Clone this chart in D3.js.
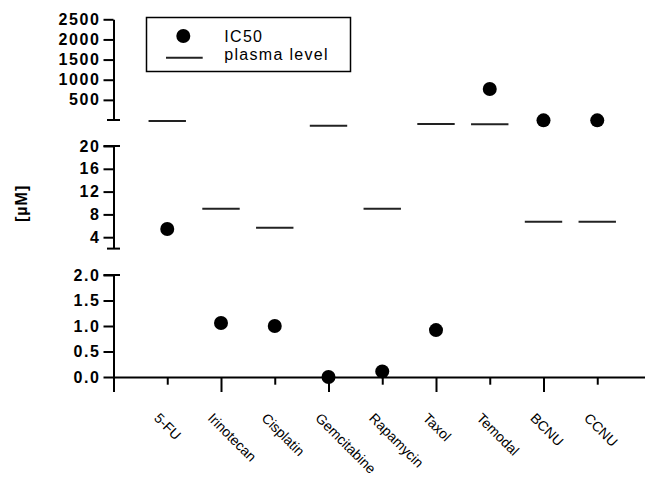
<!DOCTYPE html>
<html>
<head>
<meta charset="utf-8">
<script src="https://cdn.jsdelivr.net/npm/d3@7"></script>
<style>
  html, body { margin: 0; padding: 0; background: #fff; }
  svg { display: block; }
  text { font-family: "Liberation Sans", Arial, sans-serif; }
</style>
</head>
<body>
<svg id="chart" width="645" height="479"></svg>
<script>
// ---- data ----
const categories = ["5-FU", "Irinotecan", "Cisplatin", "Gemcitabine", "Rapamycin", "Taxol", "Temodal", "BCNU", "CCNU"];
const ic50 = [5.44, 1.06, 1.00, 0.0, 0.11, 0.92, 770, 24.5, 24.5];
const plasmaLevel = [24.4, 9.0, 5.67, 23.55, 9.0, 23.85, 23.8, 6.7, 6.7];
const topTicks = [500, 1000, 1500, 2000, 2500];
const midTicks = [4, 8, 12, 16, 20];
const botTicks = [0.0, 0.5, 1.0, 1.5, 2.0];
const legendLabels = ["IC50", "plasma level"];
const yLabel = "[µM]";

// ---- layout ----
const svg = d3.select("#chart");
const axisX = 113.5;

const x = d3.scaleLinear().domain([0, 10]).range([axisX, axisX + 537.5]);
const yTop = d3.scaleLinear().domain([0, 2500]).range([120, 19.3]);
const yMid = d3.scaleLinear().domain([2, 20]).range([248.6, 146]);
const yBot = d3.scaleLinear().domain([0, 2]).range([377, 275]);
function y(v) {
  if (v <= 2) return yBot(v);
  if (v <= 30) return yMid(v);
  return yTop(v);
}

const black = "#000";

function styleAxis(g, bold) {
  g.select(".domain").attr("stroke", black).attr("stroke-width", 2);
  g.selectAll(".tick line").attr("stroke", black).attr("stroke-width", 2);
  g.selectAll(".tick text")
    .attr("fill", black)
    .style("font-family", '"Liberation Sans", Arial, sans-serif')
    .style("font-size", "16px")
    .style("font-weight", bold ? "bold" : "normal")
    .style("letter-spacing", "1.6px");
}

// top segment
const gTop = svg.append("g").attr("transform", `translate(${axisX},0)`)
  .call(d3.axisLeft(yTop).tickValues(topTicks).tickSize(10).tickSizeOuter(0).tickPadding(3).tickFormat(d3.format("d")));
styleAxis(gTop, true);

// middle segment
const gMid = svg.append("g").attr("transform", `translate(${axisX},0)`)
  .call(d3.axisLeft(yMid).tickValues(midTicks).tickSize(10).tickSizeOuter(0).tickPadding(3).tickFormat(d3.format("d")));
styleAxis(gMid, true);

// bottom segment
const gBot = svg.append("g").attr("transform", `translate(${axisX},0)`)
  .call(d3.axisLeft(yBot).tickValues(botTicks).tickSize(10).tickSizeOuter(0).tickPadding(3).tickFormat(d3.format(".1f")));
styleAxis(gBot, true);

// segment end caps
const caps = [
  { yv: yTop(0), left: 6.5, right: 6.5 },
  { yv: yMid(20), left: 10, right: 6.5 },
  { yv: yMid(2), left: 6.5, right: 6.5 },
  { yv: yBot(2), left: 10, right: 6.5 }
];
svg.append("g").selectAll("line").data(caps).join("line")
  .attr("x1", d => axisX - d.left).attr("x2", d => axisX + d.right)
  .attr("y1", d => d.yv).attr("y2", d => d.yv)
  .attr("stroke", black).attr("stroke-width", 2);

// x axis
const gX = svg.append("g").attr("transform", `translate(0,${yBot(0)})`)
  .call(d3.axisBottom(x).tickValues(d3.range(0, 11)).tickSizeOuter(0).tickFormat(""));
gX.select(".domain").attr("stroke", black).attr("stroke-width", 2);
gX.selectAll(".tick line").attr("stroke", black).attr("stroke-width", 2)
  .attr("y2", d => (d % 2 === 0 ? 15 : 7.7));

// category labels
svg.append("g").selectAll("text").data(categories).join("text")
  .attr("transform", (d, i) => `translate(${x(i + 1) - 14},419) rotate(45)`)
  .attr("text-anchor", "start")
  .style("font-size", "14px")
  .attr("fill", black)
  .text(d => d);

// y label
svg.append("text")
  .attr("transform", "translate(27,203.4) rotate(-90)")
  .attr("text-anchor", "middle")
  .style("font-size", "16px")
  .style("font-weight", "bold")
  .style("letter-spacing", "1px")
  .attr("fill", black)
  .text(yLabel);

// plasma level lines
const halfW = 18.7;
svg.append("g").selectAll("line").data(plasmaLevel).join("line")
  .attr("x1", (d, i) => x(i + 1) - halfW)
  .attr("x2", (d, i) => x(i + 1) + halfW)
  .attr("y1", d => y(d)).attr("y2", d => y(d))
  .attr("stroke", "#222").attr("stroke-width", 2);

// IC50 dots
svg.append("g").selectAll("circle").data(ic50).join("circle")
  .attr("cx", (d, i) => x(i + 1))
  .attr("cy", d => y(d))
  .attr("r", 7)
  .attr("fill", black);

// legend
const lg = svg.append("g");
lg.append("rect").attr("x", 146.5).attr("y", 17.5).attr("width", 204).attr("height", 54)
  .attr("fill", "none").attr("stroke", black).attr("stroke-width", 1.5);
lg.append("circle").attr("cx", 183.3).attr("cy", 36).attr("r", 7).attr("fill", black);
lg.append("line").attr("x1", 166).attr("x2", 202.7).attr("y1", 57.7).attr("y2", 57.7)
  .attr("stroke", "#222").attr("stroke-width", 2);
lg.selectAll("text.lab").data(legendLabels).join("text")
  .attr("class", "lab")
  .attr("x", 224.3)
  .attr("y", (d, i) => (i === 0 ? 42.3 : 60))
  .style("font-size", "16px")
  .style("letter-spacing", "1.3px")
  .attr("fill", black)
  .text(d => d);
</script>
</body>
</html>
